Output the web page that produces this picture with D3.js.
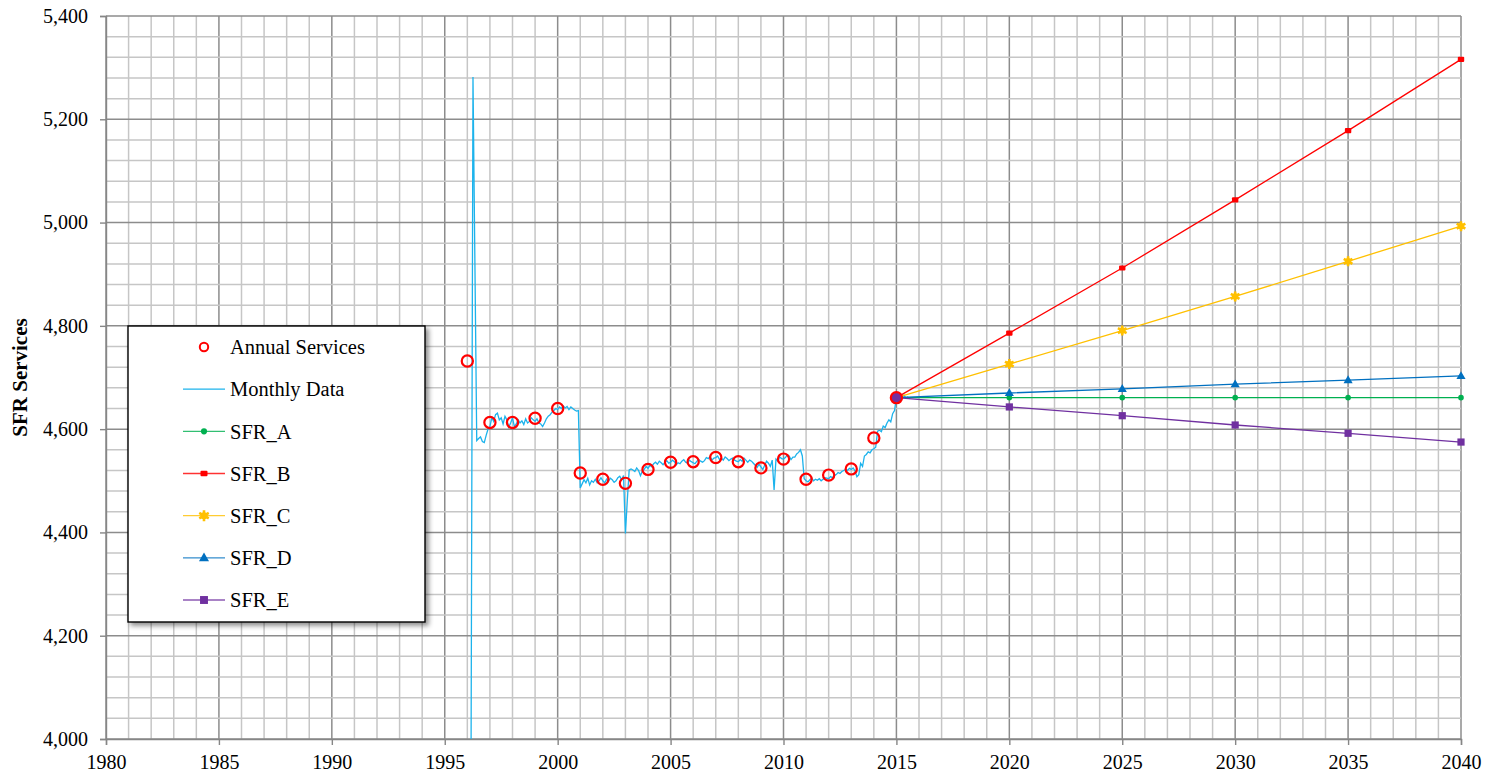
<!DOCTYPE html>
<html>
<head>
<meta charset="utf-8">
<script src="https://cdn.jsdelivr.net/npm/d3@7"></script>
<style>
  html, body { margin: 0; padding: 0; background: #fff; }
  svg { display: block; }
  svg text { font-family: "Liberation Serif", "Times New Roman", serif; }
</style>
</head>
<body>
<svg id="chart" width="1490" height="776"></svg>
<script>
// ---------------- DATA ----------------
const xTicks = [1980, 1985, 1990, 1995, 2000, 2005, 2010, 2015, 2020, 2025, 2030, 2035, 2040];
const yTicks = [4000, 4200, 4400, 4600, 4800, 5000, 5200, 5400];

const annualYears  = [1996, 1997, 1998, 1999, 2000, 2001, 2002, 2003, 2004, 2005, 2006, 2007, 2008, 2009, 2010, 2011, 2012, 2013, 2014, 2015];
const annualValues = [4732, 4613, 4613, 4621, 4640, 4515, 4503, 4495, 4522, 4536, 4537, 4545, 4537, 4525, 4542, 4503, 4511, 4523, 4583, 4661];

// Monthly data, starting March 1996 (one value per month)
const monthlyStartYear = 1996;
const monthlyStartMonth = 2; // 0 = January
const monthlyValues = [
  // 1996 Mar..Dec
  4000, 5282, 4930, 4578, 4582, 4585, 4576, 4574, 4588, 4600,
  // 1997
  4605, 4622, 4615, 4628, 4631, 4618, 4622, 4610, 4625, 4618, 4604, 4612,
  // 1998
  4622, 4605, 4610, 4618, 4612, 4616, 4609, 4620, 4612, 4615, 4622, 4618,
  // 1999
  4615, 4620, 4612, 4610, 4605, 4612, 4620, 4625, 4628, 4633, 4636, 4640,
  // 2000
  4638, 4643, 4640, 4645, 4641, 4644, 4638, 4643, 4640, 4637, 4635, 4636,
  // 2001
  4486, 4494, 4502, 4496, 4505, 4492, 4500, 4497, 4503, 4496, 4500, 4506,
  // 2002
  4500, 4496, 4503, 4499, 4505, 4502, 4497, 4500, 4506, 4509, 4502, 4510,
  // 2003
  4398, 4462, 4521, 4523, 4521, 4518, 4525, 4520, 4510, 4519, 4522, 4528,
  // 2004
  4524, 4530, 4527, 4533, 4536, 4532, 4538, 4535, 4531, 4536, 4539, 4534,
  // 2005
  4536, 4540, 4537, 4531, 4535, 4533, 4538, 4541, 4536, 4534, 4540, 4537,
  // 2006
  4535, 4533, 4538, 4541, 4538, 4536, 4539, 4545, 4543, 4547, 4540, 4544,
  // 2007
  4545, 4548, 4541, 4544, 4540, 4546, 4543, 4539, 4542, 4544, 4540, 4538,
  // 2008
  4537, 4541, 4538, 4544, 4540, 4536, 4540, 4538, 4534, 4530, 4526, 4532,
  // 2009
  4527, 4522, 4530, 4538, 4534, 4528, 4540, 4482, 4542, 4538, 4546, 4543,
  // 2010
  4542, 4545, 4550, 4548, 4541, 4546, 4546, 4552, 4555, 4560, 4548, 4504,
  // 2011
  4500, 4498, 4502, 4505, 4500, 4503, 4501, 4504, 4500, 4503, 4506, 4505,
  // 2012
  4504, 4508, 4506, 4510, 4512, 4516, 4514, 4518, 4520, 4522, 4520, 4524,
  // 2013
  4522, 4525, 4519, 4508, 4512, 4534, 4528, 4548, 4551, 4556, 4554, 4560,
  // 2014
  4562, 4565, 4596, 4598, 4595, 4606, 4603, 4612, 4618, 4614, 4630, 4636,
  // 2015 Jan..Aug
  4662, 4664, 4660, 4662, 4666, 4660, 4662, 4659
];

const projYears = [2015, 2020, 2025, 2030, 2035, 2040];
const sfrA = [4661, 4661, 4661, 4661, 4661, 4661];
const sfrB = [4661, 4786, 4912, 5044, 5178, 5316];
const sfrC = [4661, 4726, 4791, 4857, 4925, 4993];
const sfrD = [4661, 4670, 4678, 4687, 4695, 4703];
const sfrE = [4661, 4643, 4626, 4608, 4592, 4575];

const seriesNames = ["SFR_A", "SFR_B", "SFR_C", "SFR_D", "SFR_E"];
const seriesColors = ["#00B050", "#FF0000", "#FFC000", "#0070C0", "#7030A0"];
const seriesData = [sfrA, sfrB, sfrC, sfrD, sfrE];

// ---------------- CHART ----------------
const SERIF = '"Liberation Serif", "Times New Roman", serif';
const svg = d3.select("#chart");
const x = d3.scaleLinear().domain([1980, 2040]).range([106, 1461]);
const y = d3.scaleLinear().domain([4000, 5400]).range([739, 16]);

const minorGrid = "#c6c6c6", majorGrid = "#8c8c8c";

// grid
const g = svg.append("g");
const vMinor = d3.range(1980, 2041, 1);
g.selectAll(".vg").data(vMinor).join("line")
  .attr("x1", d => x(d)).attr("x2", d => x(d))
  .attr("y1", y(4000)).attr("y2", y(5400))
  .attr("stroke", d => d % 5 === 0 ? majorGrid : minorGrid)
  .attr("stroke-width", 1.5);
const hMinor = d3.range(4000, 5401, 40);
g.selectAll(".hg").data(hMinor).join("line")
  .attr("x1", x(1980)).attr("x2", x(2040))
  .attr("y1", d => y(d)).attr("y2", d => y(d))
  .attr("stroke", d => d % 200 === 0 ? majorGrid : minorGrid)
  .attr("stroke-width", 1.5);

// axes
const xAxis = d3.axisBottom(x).tickValues(xTicks).tickFormat(d3.format("d")).tickSize(6).tickPadding(10);
const yAxis = d3.axisLeft(y).tickValues(yTicks).tickFormat(d3.format(",")).tickSize(6).tickPadding(12);
const gx = svg.append("g").attr("transform", `translate(0,${y(4000)})`).call(xAxis);
const gy = svg.append("g").attr("transform", `translate(${x(1980)},0)`).call(yAxis);
[gx, gy].forEach(a => {
  a.attr("font-family", SERIF).attr("font-size", 20);
  a.select(".domain").attr("stroke", "#868686").attr("stroke-width", 1.4);
  a.selectAll(".tick line").attr("stroke", "#868686").attr("stroke-width", 1.4);
  a.selectAll(".tick text").attr("fill", "#000").attr("font-family", SERIF).attr("font-size", 20);
});

// y axis title
svg.append("text")
  .attr("transform", `translate(27,${(y(4000) + y(5400)) / 2}) rotate(-90)`)
  .attr("text-anchor", "middle")
  .attr("font-family", SERIF)
  .attr("font-size", 21).attr("font-weight", "bold")
  .text("SFR Services");

// clip
svg.append("clipPath").attr("id", "plotclip").append("rect")
  .attr("x", x(1980)).attr("y", y(5400)).attr("width", x(2040) - x(1980)).attr("height", y(4000) - y(5400));

// monthly line
const monthly = monthlyValues.map((v, i) => ({ t: monthlyStartYear + (monthlyStartMonth + i) / 12, v }));
svg.append("path").datum(monthly)
  .attr("clip-path", "url(#plotclip)")
  .attr("fill", "none").attr("stroke", "#1CB3EC").attr("stroke-width", 1.3)
  .attr("d", d3.line().x(d => x(d.t)).y(d => y(d.v)));

// marker drawing helper
function drawMarker(sel, idx, cx, cy, scale) {
  const c = seriesColors[idx];
  const s = scale || 1;
  if (idx === 0) {
    sel.append("circle").attr("cx", cx).attr("cy", cy).attr("r", 2.8 * s).attr("fill", c);
  } else if (idx === 1) {
    sel.append("rect").attr("x", cx - 3.2 * s).attr("y", cy - 2.6 * s).attr("width", 6.4 * s).attr("height", 5.2 * s)
      .attr("rx", 1).attr("fill", c);
  } else if (idx === 2) {
    sel.append("path").attr("transform", `translate(${cx},${cy})`)
      .attr("d", d3.symbol(d3.symbolAsterisk, 70 * s * s)()).attr("stroke", c).attr("stroke-width", 2.6).attr("fill", "none");
    sel.append("circle").attr("cx", cx).attr("cy", cy).attr("r", 3.2 * s).attr("fill", c);
  } else if (idx === 3) {
    sel.append("path").attr("transform", `translate(${cx},${cy + 0.5})`)
      .attr("d", d3.symbol(d3.symbolTriangle, 36 * s * s)()).attr("fill", c);
  } else {
    sel.append("rect").attr("x", cx - 3.6 * s).attr("y", cy - 3.6 * s).attr("width", 7.2 * s).attr("height", 7.2 * s).attr("fill", c);
  }
}

// projection series
seriesData.forEach((vals, i) => {
  const pts = projYears.map((t, k) => ({ t, v: vals[k] }));
  svg.append("path").datum(pts)
    .attr("fill", "none").attr("stroke", seriesColors[i]).attr("stroke-width", 1.3)
    .attr("d", d3.line().x(d => x(d.t)).y(d => y(d.v)));
});
seriesData.forEach((vals, i) => {
  const mg = svg.append("g");
  projYears.forEach((t, k) => drawMarker(mg, i, x(t), y(vals[k]), 1));
});
// purple fill under 2015 annual circle
svg.append("circle").attr("cx", x(2015)).attr("cy", y(sfrE[0])).attr("r", 5).attr("fill", "#7030A0");

// annual circles
svg.append("g").selectAll("circle").data(annualYears).join("circle")
  .attr("cx", d => x(d)).attr("cy", (d, i) => y(annualValues[i]))
  .attr("r", 5.6).attr("fill", "none").attr("stroke", "#FF0000").attr("stroke-width", 2.2);

// legend
const defs = svg.append("defs");
const f = defs.append("filter").attr("id", "shadow").attr("x", "-10%").attr("y", "-10%").attr("width", "130%").attr("height", "130%");
f.append("feDropShadow").attr("dx", 3).attr("dy", 3).attr("stdDeviation", 2.5).attr("flood-color", "#000").attr("flood-opacity", 0.45);

const lg = svg.append("g");
lg.append("rect").attr("x", 128).attr("y", 326).attr("width", 297).attr("height", 296)
  .attr("fill", "#fff").attr("stroke", "#000").attr("stroke-width", 1.4).attr("filter", "url(#shadow)");

const legendItems = ["Annual Services", "Monthly Data"].concat(seriesNames);
const rowY = d3.scaleLinear().domain([0, 6]).range([347, 600]);
legendItems.forEach((name, i) => {
  const cy = rowY(i);
  if (i === 0) {
    lg.append("circle").attr("cx", 204).attr("cy", cy).attr("r", 4.2).attr("fill", "none").attr("stroke", "#FF0000").attr("stroke-width", 2);
  } else if (i === 1) {
    lg.append("line").attr("x1", 183).attr("x2", 225).attr("y1", cy).attr("y2", cy).attr("stroke", "#1CB3EC").attr("stroke-width", 1.3);
  } else {
    lg.append("line").attr("x1", 183).attr("x2", 225).attr("y1", cy).attr("y2", cy).attr("stroke", seriesColors[i - 2]).attr("stroke-width", 1.3).attr("opacity", 0.8);
    drawMarker(lg, i - 2, 204, cy, 1.1);
  }
  lg.append("text").attr("x", 230).attr("y", cy).attr("dy", "0.35em")
    .attr("font-family", SERIF).attr("font-size", 20.5).attr("fill", "#000").text(name);
});
</script>
</body>
</html>
